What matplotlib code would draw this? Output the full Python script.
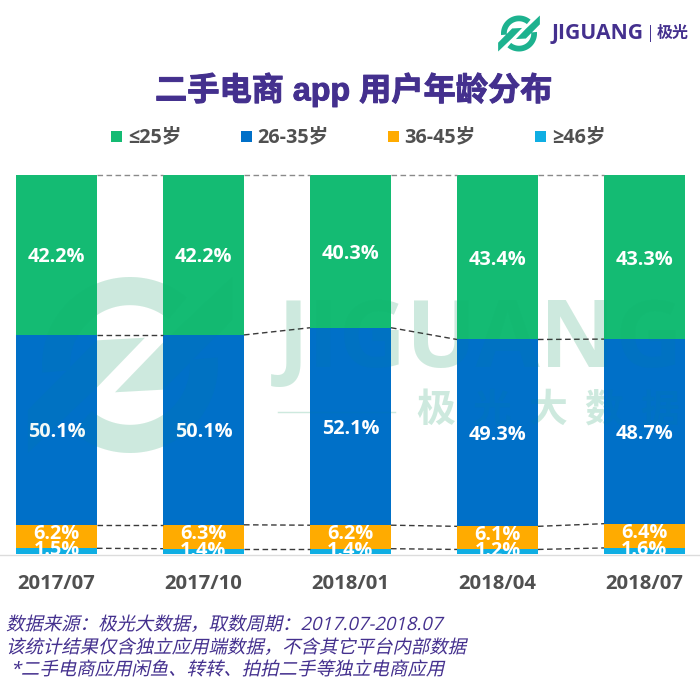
import numpy as np
import matplotlib
matplotlib.use("Agg")
import matplotlib.pyplot as plt
import matplotlib.patheffects as pe
from matplotlib.patches import Rectangle, PathPatch
from matplotlib.path import Path
from matplotlib.transforms import Affine2D

plt.rcParams['font.family'] = ['Open Sans', 'Noto Sans CJK SC', 'DejaVu Sans']

periods = ["2017/07", "2017/10", "2018/01", "2018/04", "2018/07"]
series_names = ["≤25岁", "26-35岁", "36-45岁", "≥46岁"]
age_le25 = [42.2, 42.2, 40.3, 43.4, 43.3]
age_26_35 = [50.1, 50.1, 52.1, 49.3, 48.7]
age_36_45 = [6.2, 6.3, 6.2, 6.1, 6.4]
age_ge46 = [1.5, 1.4, 1.4, 1.2, 1.6]
colors = ["#14BB73", "#0070C8", "#FFAB00", "#0FAEE3"]
title = "二手电商 app 用户年龄分布"
notes = ["数据来源：极光大数据，取数周期：2017.07-2018.07",
         "该统计结果仅含独立应用端数据，不含其它平台内部数据",
         " *二手电商应用闲鱼、转转、拍拍二手等独立电商应用"]
wm_chars = ["极", "光", "大", "数", "据"]

PURPLE = "#44308E"
GREY = "#505050"
WM = "#0E9A5E"
W, H = 700, 694


class Skew(pe.AbstractPathEffect):
    """Slant glyph outlines, as the CJK fonts have no italic face."""
    def draw_path(self, renderer, gc, tpath, affine, rgbFace=None):
        renderer.draw_path(gc, tpath, Affine2D().skew_deg(13, 0) + affine, rgbFace)


fig = plt.figure(figsize=(W / 100, H / 100), dpi=100, facecolor="white")


def pixel_axes(z):
    a = fig.add_axes([0, 0, 1, 1], facecolor="none", zorder=z)
    a.set_xlim(0, W)
    a.set_ylim(H, 0)
    a.axis("off")
    return a


back = pixel_axes(0)
ov = pixel_axes(2)

# bar axes: pixel box 16..685 x 175..554
L, R, T, B = 16, 685, 175, 554
ax = fig.add_axes([L / W, 1 - B / H, (R - L) / W, (B - T) / H], facecolor="none", zorder=1)
bar_w = 81 / 147
ax.set_xlim(-bar_w / 2, 4 + bar_w / 2)
ax.set_ylim(0, 100)
ax.axis("off")

stack = [age_ge46, age_36_45, age_26_35, age_le25]
stack_colors = colors[::-1]
label_shift = [0.2, 0.8, -0.65, -0.65]
bottoms = [0] * len(periods)
boundaries = []
for vals, c, sh in zip(stack, stack_colors, label_shift):
    ax.bar(range(len(periods)), vals, width=bar_w, bottom=bottoms, color=c, linewidth=0, zorder=2)
    for i, v in enumerate(vals):
        ax.text(i, bottoms[i] + v / 2 + sh, f"{v:.1f}%", ha="center", va="center", color="white",
                fontsize=14.3, fontweight="bold", zorder=5, clip_on=True)
    bottoms = [b + v for b, v in zip(bottoms, vals)]
    boundaries.append(list(bottoms))

# dashed connectors between neighbouring bars
for level, tops in enumerate(boundaries):
    is_top = level == len(boundaries) - 1
    for i in range(len(periods) - 1):
        ax.plot([i + bar_w / 2, i + 1 - bar_w / 2], [tops[i], tops[i + 1]],
                color="#8a8a8a" if is_top else "#3a3a3a", lw=1.0,
                dashes=(4, 2.5), zorder=3, clip_on=False)

# category labels
for i, p in enumerate(periods):
    ax.text(i, -7.85, p, ha="center", va="center", color=GREY, fontsize=14.6,
            fontweight="bold", clip_on=False)

ov.plot([0, W], [554.5, 554.5], color="#dcdcdc", lw=1, zorder=1)

# title
ov.text(354, 90, title, ha="center", va="center", color=PURPLE, fontsize=23.2, fontweight="bold",
        family=["Liberation Sans", "Noto Sans CJK SC"],
        path_effects=[pe.withStroke(linewidth=0.7, foreground=PURPLE)])

# legend
leg_sq = [111, 241, 388, 535]
leg_tx = [128, 257, 404, 552]
for x, tx, c, n in zip(leg_sq, leg_tx, colors, series_names):
    ov.add_patch(Rectangle((x, 131), 11, 11, color=c, lw=0))
    ov.text(tx, 137.5, n, ha="left", va="center", color=GREY, fontsize=14.2, fontweight="bold")

# notes
for y, t in zip([625, 648, 670], notes):
    ov.text(6, y, t, ha="left", va="center", color=PURPLE, fontsize=13.25,
            family=["Open Sans", "Noto Sans CJK SC", "DejaVu Sans"], path_effects=[Skew()])


def ring(cx, cy, r, width, t1, t2):
    t = np.radians(np.linspace(t1, t2, 80))
    outer = np.c_[cx + r * np.cos(t), cy + r * np.sin(t)]
    inner = np.c_[cx + (r - width) * np.cos(t[::-1]), cy + (r - width) * np.sin(t[::-1])]
    return np.vstack([outer, inner])


def logo_path(cx, cy, r):
    """JIGUANG mark: two rings and two slanted bands, one compound outline."""
    band = np.array([(-1.16, 1.0), (-1.16, 0.51), (-0.38, -0.28), (0.17, -0.31), (-0.38, 0.26)])
    polys = [ring(cx, cy, r, 0.32 * r, 175, 310), ring(cx, cy, r, 0.32 * r, -5, 130),
             np.c_[cx + band[:, 0] * r, cy + band[:, 1] * r],
             np.c_[cx - band[:, 0] * r, cy - band[:, 1] * r]]
    verts, codes = [], []
    for p in polys:
        x, y = p[:, 0], p[:, 1]
        if np.sum(x * np.roll(y, -1) - np.roll(x, -1) * y) < 0:
            p = p[::-1]
        verts += list(p) + [p[0]]
        codes += [Path.MOVETO] + [Path.LINETO] * (len(p) - 1) + [Path.CLOSEPOLY]
    return Path(np.array(verts), codes)


def watermark(a, alpha):
    a.add_patch(PathPatch(logo_path(130, 365, 88), facecolor=WM, edgecolor="none", alpha=alpha))
    a.text(278, 367, "JIGUANG", ha="left", va="baseline", color=WM, alpha=alpha, fontsize=67,
           fontweight="bold", family=["Open Sans"])
    a.plot([278, 395], [411.5, 411.5], color=WM, alpha=alpha, lw=1)
    for k, ch in enumerate(wm_chars):
        a.text(436 + 55.8 * k, 410, ch, ha="center", va="center", color=WM, alpha=alpha,
               fontsize=28, fontweight="bold", family=["Noto Sans CJK SC"])


watermark(back, 0.16)
watermark(ov, 0.05)

# brand logo
ov.add_patch(PathPatch(logo_path(519, 33.5, 18), facecolor="#1DB28F", edgecolor="none"))
ov.text(552, 33, "JIGUANG", ha="left", va="center", color=PURPLE, fontsize=15.2, fontweight="bold",
        family=["Open Sans"])
ov.plot([650, 650], [25, 41], color=PURPLE, lw=0.7)
ov.text(657, 33, "极光", ha="left", va="center", color=PURPLE, fontsize=11.5, fontweight="bold",
        family=["Noto Sans CJK SC"])

fig.savefig("out.png", dpi=100)
